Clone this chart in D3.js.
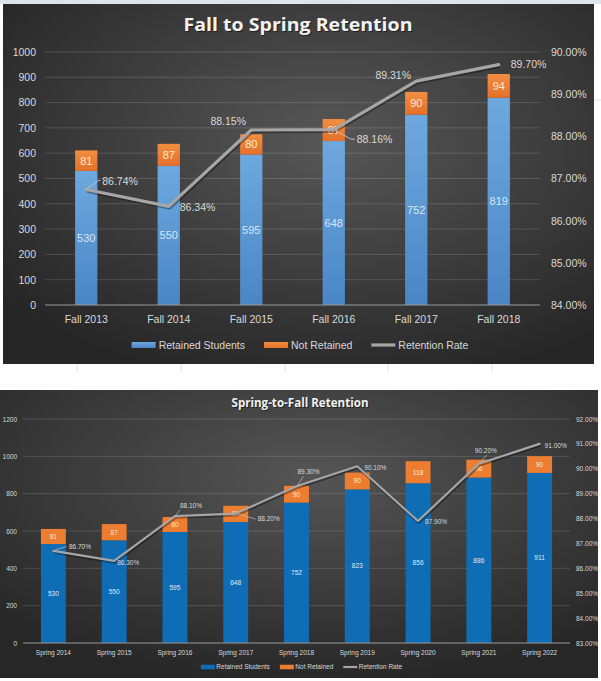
<!DOCTYPE html>
<html><head><meta charset="utf-8">
<script src="https://cdn.jsdelivr.net/npm/d3@7"></script>
<style>html,body{margin:0;padding:0;background:#fff;} svg{display:block}</style>
</head><body>
<svg id="c" width="601" height="681"></svg>
<script>
// ---------- DATA ----------
const fallCategories = ["Fall 2013","Fall 2014","Fall 2015","Fall 2016","Fall 2017","Fall 2018"];
const fallRetained = [530,550,595,648,752,819];
const fallNotRetained = [81,87,80,87,90,94];
const fallRate = [86.74,86.34,88.15,88.16,89.31,89.70];
const fallLeftTicks = [0,100,200,300,400,500,600,700,800,900,1000];
const fallRightTicks = [84,85,86,87,88,89,90];

const springCategories = ["Spring 2014","Spring 2015","Spring 2016","Spring 2017","Spring 2018","Spring 2019","Spring 2020","Spring 2021","Spring 2022"];
const springRetained = [530,550,595,648,752,823,856,886,911];
const springNotRetained = [81,87,80,87,90,90,118,96,90];
const springRate = [86.70,86.30,88.10,88.20,89.30,90.10,87.90,90.20,91.00];
const springLeftTicks = [0,200,400,600,800,1000,1200];
const springRightTicks = [83,84,85,86,87,88,89,90,91,92];

const seriesNames = ["Retained Students","Not Retained","Retention Rate"];

// ---------- label placement (style only) ----------
const fallLabelPlace = [
  {dx:16, dy:-8.5, anchor:"start", leader:[[1,-1],[12,-9],[14,-9]]},
  {dx:11, dy:1, anchor:"start"},
  {dx:-23, dy:-9, anchor:"middle"},
  {dx:23, dy:9.5, anchor:"start", leader:[[2,1],[17,9.5],[21,9.5]]},
  {dx:-23, dy:-6, anchor:"middle"},
  {dx:12, dy:0, anchor:"start"}
];
const springLabelPlace = [
  {dx:15.5, dy:-4, anchor:"start", leader:[[2,-1],[13,-4.5]]},
  {dx:3, dy:2, anchor:"start"},
  {dx:5, dy:-10, anchor:"start", leader:[[0,0],[5,-6]]},
  {dx:22, dy:5.5, anchor:"start", leader:[[1,0],[20,5.5]]},
  {dx:12, dy:-14, anchor:"middle", leader:[[1,-1],[7,-10]]},
  {dx:7, dy:1, anchor:"start"},
  {dx:7, dy:1, anchor:"start"},
  {dx:7, dy:-13, anchor:"middle", leader:[[1,-1],[8,-9]]},
  {dx:5, dy:2, anchor:"start"}
];

const svg = d3.select("#c");
const defs = svg.append("defs");
const FONT = "'Liberation Sans', Arial, sans-serif";

// spreadsheet background hints
svg.append("rect").attr("x",0).attr("y",0).attr("width",601).attr("height",4).attr("fill","#dde4ec");
[77,181,285,388,492].forEach(x=>{
  svg.append("line").attr("x1",x).attr("x2",x).attr("y1",364).attr("y2",372).attr("stroke","#e2e2e2");
});
[598,599].forEach(()=>{});
svg.append("line").attr("x1",594).attr("x2",601).attr("y1",100).attr("y2",100).attr("stroke","#e6e6e6");

function radial(id, c0, c1, cx, cy, r){
  const g = defs.append("radialGradient").attr("id",id).attr("cx",cx).attr("cy",cy).attr("r",r);
  g.append("stop").attr("offset","0%").attr("stop-color",c0);
  g.append("stop").attr("offset","100%").attr("stop-color",c1);
}
function linear(id, c0, c1){
  const g = defs.append("linearGradient").attr("id",id).attr("x1",0).attr("y1",0).attr("x2",0).attr("y2",1);
  g.append("stop").attr("offset","0%").attr("stop-color",c0);
  g.append("stop").attr("offset","100%").attr("stop-color",c1);
}
radial("bg1","#575757","#262626","55%","38%","70%");
radial("bg2","#555555","#272727","52%","30%","72%");
linear("blue1","#6da8de","#4a86c6");
linear("orange1","#f28e40","#e4702a");

function drawChart(cfg){
  const g = svg.append("g");
  g.append("rect").attr("x",cfg.panel[0]).attr("y",cfg.panel[1]).attr("width",cfg.panel[2]).attr("height",cfg.panel[3]).attr("fill",cfg.bg);

  const x = d3.scaleBand().domain(cfg.categories).range([cfg.left,cfg.right])
    .paddingInner(cfg.pad).paddingOuter(cfg.pad/2);
  const yL = d3.scaleLinear().domain(d3.extent(cfg.leftTicks)).range([cfg.bottom,cfg.top]);
  const yR = d3.scaleLinear().domain(d3.extent(cfg.rightTicks)).range([cfg.bottom,cfg.top]);

  // gridlines
  g.append("g").selectAll("line").data(cfg.leftTicks.filter(d=>d>0)).join("line")
    .attr("x1",cfg.left).attr("x2",cfg.right).attr("y1",d=>yL(d)).attr("y2",d=>yL(d))
    .attr("stroke","rgba(255,255,255,0.14)").attr("stroke-width",1);

  // left axis
  const la = g.append("g").attr("transform",`translate(${cfg.left},0)`)
    .call(d3.axisLeft(yL).tickValues(cfg.leftTicks).tickSize(0).tickPadding(cfg.lpad).tickFormat(d3.format("d")));
  la.select(".domain").remove();
  la.selectAll("text").attr("fill",cfg.textColor).style("font-family",FONT).style("font-size",cfg.axisFs+"px");

  // right axis
  const ra = g.append("g").attr("transform",`translate(${cfg.right},0)`)
    .call(d3.axisRight(yR).tickValues(cfg.rightTicks).tickSize(0).tickPadding(cfg.rpad).tickFormat(d=>d3.format(".2f")(d)+"%"));
  ra.select(".domain").remove();
  ra.selectAll("text").attr("fill",cfg.textColor).style("font-family",FONT).style("font-size",cfg.axisFs+"px");

  // bars
  const bw = x.bandwidth();
  g.append("g").selectAll("rect").data(cfg.categories).join("rect")
    .attr("x",d=>x(d)).attr("width",bw)
    .attr("y",(d,i)=>yL(cfg.retained[i])).attr("height",(d,i)=>yL(0)-yL(cfg.retained[i]))
    .attr("fill",cfg.blue);
  g.append("g").selectAll("rect").data(cfg.categories).join("rect")
    .attr("x",d=>x(d)).attr("width",bw)
    .attr("y",(d,i)=>yL(cfg.retained[i]+cfg.notRetained[i]))
    .attr("height",(d,i)=>yL(cfg.retained[i])-yL(cfg.retained[i]+cfg.notRetained[i]))
    .attr("fill",cfg.orange);

  // baseline
  g.append("line").attr("x1",cfg.left).attr("x2",cfg.right).attr("y1",yL(0)).attr("y2",yL(0))
    .attr("stroke","#9a9a9a").attr("stroke-width",1);

  // x axis
  const xa = g.append("g").attr("transform",`translate(0,${yL(0)})`)
    .call(d3.axisBottom(x).tickSize(0).tickPadding(cfg.xpad));
  xa.select(".domain").remove();
  xa.selectAll("text").attr("fill",cfg.textColor).style("font-family",FONT).style("font-size",cfg.xFs+"px");

  // bar labels
  g.append("g").selectAll("text").data(cfg.categories).join("text")
    .attr("x",d=>x(d)+bw/2).attr("y",(d,i)=>(yL(0)+yL(cfg.retained[i]))/2)
    .attr("dy","0.35em").attr("text-anchor","middle")
    .attr("fill",cfg.blueLabel).style("font-family",FONT).style("font-size",cfg.barFs+"px")
    .text((d,i)=>cfg.retained[i]);
  g.append("g").selectAll("text").data(cfg.categories).join("text")
    .attr("x",d=>x(d)+bw/2).attr("y",(d,i)=>(yL(cfg.retained[i])+yL(cfg.retained[i]+cfg.notRetained[i]))/2)
    .attr("dy","0.35em").attr("text-anchor","middle")
    .attr("fill",cfg.orangeLabel).style("font-family",FONT).style("font-size",cfg.barFs+"px")
    .text((d,i)=>cfg.notRetained[i]);

  // line
  const line = d3.line().x((d,i)=>x(cfg.categories[i])+bw/2).y(d=>yR(d));
  g.append("path").datum(cfg.rate).attr("d",line).attr("fill","none")
    .attr("stroke","rgba(0,0,0,0.35)").attr("stroke-width",cfg.lineW+1).attr("transform","translate(0.8,1.2)")
    .attr("stroke-linejoin","round");
  g.append("path").datum(cfg.rate).attr("d",line).attr("fill","none")
    .attr("stroke","#a6a6a6").attr("stroke-width",cfg.lineW).attr("stroke-linejoin","round").attr("stroke-linecap","round");

  // line labels
  cfg.rate.forEach((r,i)=>{
    const px = x(cfg.categories[i])+bw/2, py = yR(r);
    const p = cfg.place[i];
    if(p.leader){
      g.append("path").attr("d",d3.line()(p.leader.map(q=>[px+q[0],py+q[1]])))
        .attr("fill","none").attr("stroke","#bfbfbf").attr("stroke-width",cfg.leaderW);
    }
    g.append("text").attr("x",px+p.dx).attr("y",py+p.dy).attr("dy","0.35em")
      .attr("text-anchor",p.anchor).attr("fill",cfg.textColor)
      .style("font-family",FONT).style("font-size",cfg.rateFs+"px")
      .text(d3.format(".2f")(r)+"%");
  });

  // title
  g.append("text").attr("x",cfg.titleX+1).attr("y",cfg.titleY+1).attr("text-anchor","middle")
    .attr("fill","rgba(0,0,0,0.5)").style("font-family","'Open Sans', sans-serif").style("font-weight","bold")
    .style("font-size",cfg.titleFs+"px").attr("textLength",cfg.titleLen).attr("lengthAdjust","spacingAndGlyphs").text(cfg.title);
  g.append("text").attr("x",cfg.titleX).attr("y",cfg.titleY).attr("text-anchor","middle")
    .attr("fill","#f2f2f2").style("font-family","'Open Sans', sans-serif").style("font-weight","bold")
    .style("font-size",cfg.titleFs+"px").attr("textLength",cfg.titleLen).attr("lengthAdjust","spacingAndGlyphs").text(cfg.title);

  // legend
  const lg = g.append("g");
  let cx = 0;
  const items = [];
  seriesNames.forEach((name,i)=>{
    const it = lg.append("g").attr("transform",`translate(${cx},0)`);
    if(i<2){
      it.append("rect").attr("x",0).attr("y",-cfg.swH/2).attr("width",cfg.swW).attr("height",cfg.swH)
        .attr("fill",i===0?cfg.blue:cfg.orange);
    } else {
      it.append("line").attr("x1",0).attr("x2",cfg.swW).attr("y1",0).attr("y2",0)
        .attr("stroke","#a6a6a6").attr("stroke-width",cfg.lineW);
    }
    const t = it.append("text").attr("x",cfg.swW+cfg.swGap).attr("y",0).attr("dy","0.35em")
      .attr("fill",cfg.textColor).style("font-family",FONT).style("font-size",cfg.legFs+"px").text(name);
    cx += cfg.swW+cfg.swGap+t.node().getComputedTextLength()+cfg.itemGap;
  });
  const total = cx - cfg.itemGap;
  lg.attr("transform",`translate(${cfg.legCx-total/2},${cfg.legY})`);
}

drawChart({
  panel:[3,4,591,360], bg:"url(#bg1)",
  categories:fallCategories, retained:fallRetained, notRetained:fallNotRetained, rate:fallRate,
  leftTicks:fallLeftTicks, rightTicks:fallRightTicks,
  left:45, right:540, top:52, bottom:305, pad:0.73,
  lpad:9, rpad:11, xpad:11, axisFs:10.5, xFs:10.5, barFs:11, rateFs:10.5, legFs:10.5,
  textColor:"#d9d9d9", blue:"url(#blue1)", orange:"url(#orange1)",
  blueLabel:"#d6e6f6", orangeLabel:"#fde8d8", lineW:3.2, leaderW:1,
  place:fallLabelPlace,
  title:"Fall to Spring Retention", titleX:298, titleY:31, titleFs:18.5, titleLen:229,
  swW:24, swH:6, swGap:3, itemGap:19, legCx:300, legY:345
});

drawChart({
  panel:[0,390,598,288], bg:"url(#bg2)",
  categories:springCategories, retained:springRetained, notRetained:springNotRetained, rate:springRate,
  leftTicks:springLeftTicks, rightTicks:springRightTicks,
  left:23, right:570, top:419, bottom:643, pad:0.59,
  lpad:6, rpad:6, xpad:7.7, axisFs:6.5, xFs:6.5, barFs:6.6, rateFs:6.5, legFs:6.5,
  textColor:"#d9d9d9", blue:"#0f6db5", orange:"#ed7d31",
  blueLabel:"#dfe9f5", orangeLabel:"#fde8d8", lineW:2.2, leaderW:0.7,
  place:springLabelPlace,
  title:"Spring-to-Fall Retention", titleX:300, titleY:407, titleFs:11.5, titleLen:137,
  swW:14, swH:4.5, swGap:1.5, itemGap:10, legCx:301.5, legY:667
});
</script>
</body></html>
